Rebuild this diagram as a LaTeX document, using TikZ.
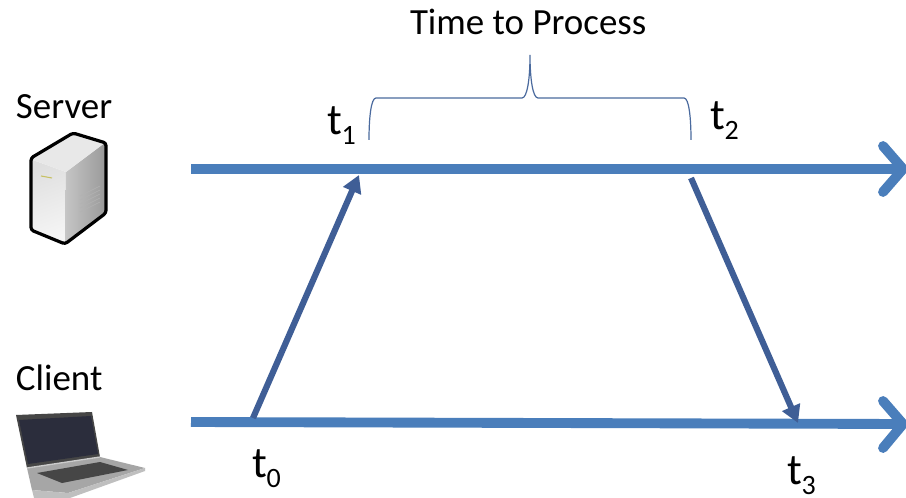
\documentclass[tikz,border=0pt]{standalone}
\usepackage{fontspec}
\setmainfont{Carlito}
\definecolor{axisblue}{HTML}{4A7EBB}
\definecolor{msgblue}{HTML}{3F5E96}
\definecolor{bracecol}{HTML}{4A6A9E}
\definecolor{screendark}{HTML}{2B2D3C}
\usetikzlibrary{arrows.meta}
\newcommand{\tsub}[1]{t\raisebox{-7.5pt}{\fontsize{21}{24}\selectfont #1}}
\tikzset{
  axisline/.style={axisblue,line width=7.4pt},
  chevron/.style={axisblue,line width=7.4pt,line cap=round,line join=miter},
  msgarrow/.style={msgblue,line width=4.6pt,-{Triangle[length=13pt,width=14pt]}},
  bracecurve/.style={bracecol,line width=0.9pt},
  lab/.style={anchor=base west,inner sep=0pt,outer sep=0pt,font=\fontsize{27.7}{30}\selectfont,text=black},
  tlab/.style={lab,font=\fontsize{33}{36}\selectfont}
}
\begin{document}
\begin{tikzpicture}[x=0.75pt,y=-0.75pt]
\useasboundingbox (0,0) rectangle (906,498);
\fill[white] (0,0) rectangle (906,498);
% coordinates
\coordinate (sStart) at (191,169);
\coordinate (sEnd) at (903,169);
\coordinate (cStart) at (191,422);
\coordinate (cEnd) at (903,424);
\coordinate (c0) at (253,418);
\coordinate (s1) at (359,175);
\coordinate (s2) at (691,178);
\coordinate (c3) at (798,423);
% axes
\draw[axisline] (sStart) -- (sEnd);
\draw[axisline] (cStart) -- (cEnd);
\draw[chevron] (883,146) -- (sEnd) -- (883,192);
\draw[chevron] (883,401) -- (cEnd) -- (883,448);
% messages
\draw[msgarrow] (c0) -- (s1);
\draw[msgarrow] (s2) -- (c3);
% brace
\draw[bracecurve] (369,140) .. controls (369,118) and (371,98) .. (376,98)
  -- (522,98) .. controls (527,98) and (530,80) .. (530,55)
  .. controls (530,80) and (533,98) .. (538,98)
  -- (684,98) .. controls (689,98) and (691,118) .. (691,140);
% labels
\node[lab] (title) at (410,35) {Time to Process};
\node[lab] (server) at (16,119) {Server};
\node[lab] (client) at (16,391) {Client};
\node[tlab] (t1) at (327,135) {\tsub{1}};
\node[tlab] (t2) at (710,130) {\tsub{2}};
\node[tlab] (t0) at (252,477) {\tsub{0}};
\node[tlab] (t3) at (787,484) {\tsub{3}};
% server icon
\shade[left color=gray!25,right color=white!92!gray,shading angle=20]
  (30,159) -- (66,172) -- (65,244) -- (30,230) -- cycle;
\shade[left color=gray!45,right color=gray!80]
  (66,172) -- (106,142) -- (106,213) -- (65,244) -- cycle;
\fill[gray!18] (30,159) -- (73,133) -- (106,142) -- (66,172) -- cycle;
\draw[black,line width=2.4pt,line join=round,rounded corners=2pt]
  (31,158) -- (73,133) -- (106,143) -- (106,213) -- (65,244) -- (31,230) -- cycle;
\foreach \yy in {196,200,204,208,212}
  \draw[gray!60,line width=0.4pt] (80,\yy) -- (100,\yy-10);
\draw[yellow!50!gray,line width=0.8pt] (41,176) -- (52,178);
% laptop icon
\fill[gray!70] (27,468) -- (100,457) -- (145,468) -- (68,493) -- (32,490) -- cycle;
\fill[gray!55!black] (37,473) -- (100,462) -- (128,470) -- (62,483) -- cycle;
\fill[gray!50] (32,490) -- (68,493) -- (145,468) -- (145,471) -- (70,498) -- (34,498) -- cycle;
\fill[gray!55!black] (16,415) -- (92,412) -- (100,457) -- (27,468) -- cycle;
\fill[screendark] (19,420) -- (91,416) -- (98,454) -- (28,464) -- cycle;
\draw[gray!40,line width=1pt] (27,468) -- (100,457);
\end{tikzpicture}
\end{document}
